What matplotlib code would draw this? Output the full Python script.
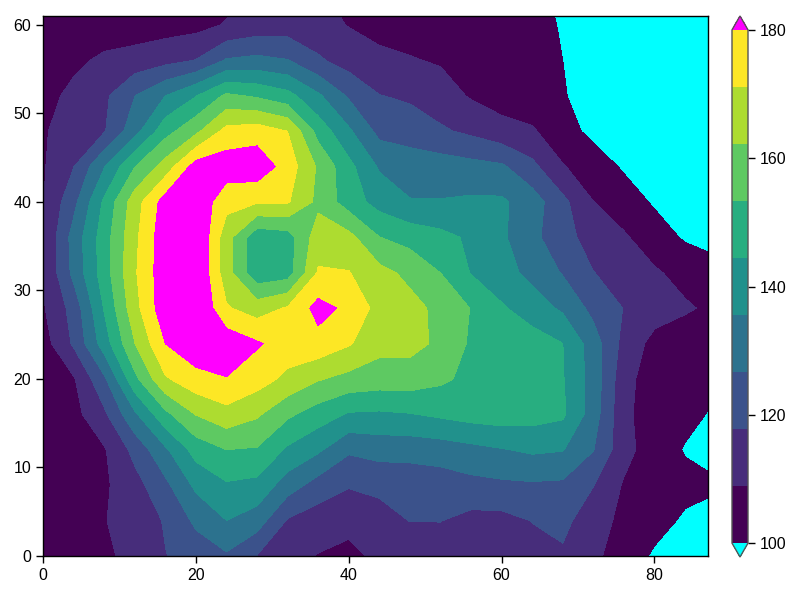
import numpy as np
import matplotlib
matplotlib.use("Agg")
import matplotlib.pyplot as plt
from matplotlib.colors import ListedColormap, BoundaryNorm

plt.rcParams["font.family"] = ["Liberation Sans", "DejaVu Sans"]

# grid positions (data units) and elevation estimates
x_pos = list(range(0, 89, 4))
y_pos = list(range(0, 65, 4))

z_rows = [
    [103, 105, 107, 112, 117.5, 121.5, 125.5, 117.5, 112, 108.5, 107, 110.5, 112, 112.5, 113, 113, 115, 116.5, 111, 104, 99, 97, 96],
    [104, 106, 108.5, 112.5, 118.5, 128.5, 135.5, 131, 117, 113, 111, 114, 118, 118, 115, 115, 118, 120, 113, 106.5, 102.5, 99, 97],
    [104, 106, 107.5, 114.5, 124.5, 137.5, 143.4, 142, 131, 123, 118.5, 120, 121, 122, 124, 125, 125.5, 125, 118, 108, 103, 102, 101],
    [103, 106, 108, 120.5, 134, 148, 153.3, 152.5, 143, 137, 128, 130, 130, 131, 133, 135, 137, 136, 127, 112, 104, 99.5, 97],
    [103, 106, 116, 134, 151, 162.5, 168, 163.5, 155, 149, 143.5, 143, 144, 146, 148, 149, 148, 146, 131, 111, 104, 102, 99],
    [102, 108, 125, 151, 170, 177, 179.6, 175, 169, 163, 159.5, 158, 158, 155, 151, 150, 148, 145, 132, 112, 104, 102, 101],
    [105, 119, 140, 162, 180, 186, 186, 181, 176, 177, 172, 165, 165, 160.5, 152, 150, 148.5, 144.5, 131, 115, 106, 104, 103],
    [108, 121, 145, 168, 186, 190, 172, 167, 172, 183, 178, 168, 165, 160, 153, 145.5, 140, 134, 124, 117.5, 113, 110, 107],
    [108.5, 129, 149, 170, 186, 190, 166, 147, 149, 172, 171.5, 165, 160, 153.3, 144, 139, 133, 126, 118, 114, 110, 106, 104],
    [108.5, 130, 149, 169, 186, 190, 166, 147, 149, 167, 165, 153.5, 150, 147, 143, 137, 129, 121, 114, 110, 104, 99, 96],
    [108.5, 124, 146, 167, 184, 187, 174, 172, 172, 160, 149, 141, 136, 136, 137, 137, 131, 120, 109, 104, 99, 97, 96],
    [108, 117.5, 135, 153, 166, 184, 185, 186, 176, 161, 147, 134.5, 132, 131, 129.5, 128, 120, 109.5, 104, 99, 97, 96, 95],
    [108, 113, 117, 132, 150, 160, 174, 175.7, 171, 150, 137, 124, 122, 119, 116, 112, 110, 103, 98, 96, 95, 95, 94],
    [106, 111, 116, 126.5, 135.5, 144, 155, 152, 147.5, 137, 125.5, 118, 116.5, 113, 108, 105, 103, 100.5, 97, 96, 95, 95, 94],
    [105, 107, 110.5, 112.5, 115, 118, 127.5, 129, 127, 119, 114, 111, 109.5, 108, 105, 103.5, 102, 100, 97, 96, 95, 95, 94],
    [103, 103, 104, 104, 105, 106, 109.5, 112.5, 113, 112, 108.5, 106, 105, 104, 103, 102.5, 102, 99.5, 96, 95, 95, 94, 94],
    [102, 102, 103, 103, 104, 105, 106, 109.5, 110, 109.5, 106, 104, 103, 102, 101, 101, 101, 99, 95, 94, 94, 94, 94],
]

levels = np.linspace(100, 180, 10)
cbar_ticks = [100, 120, 140, 160, 180]

z = np.array(z_rows)
cmap = ListedColormap(plt.get_cmap("viridis")(np.linspace(0, 1, 9)))
cmap.set_under("#00ffff")
cmap.set_over("#ff00ff")
norm = BoundaryNorm(levels, cmap.N)

fig = plt.figure(figsize=(8, 6), dpi=100)
ax = fig.add_axes([43 / 800, 44 / 600, 665 / 800, 540 / 600])
cs = ax.contourf(x_pos, y_pos, z, levels=levels, cmap=cmap, norm=norm, extend="both")
ax.set_xlim(0, 87)
ax.set_ylim(0, 61)
ax.set_xticks([0, 20, 40, 60, 80])
ax.set_yticks([0, 10, 20, 30, 40, 50, 60])
ax.tick_params(direction="out", length=5, width=1, labelsize=11.5)
for s in ax.spines.values():
    s.set_linewidth(1)

cax = fig.add_axes([732 / 800, 43 / 600, 16 / 800, 541 / 600])
cb = fig.colorbar(cs, cax=cax, ticks=cbar_ticks, extendfrac=0.027)
cb.outline.set_edgecolor("#555555")
cb.outline.set_linewidth(1)
cax.minorticks_off()
cax.tick_params(direction="out", length=5, width=1, labelsize=11.5)

fig.savefig("out.png", dpi=100)
